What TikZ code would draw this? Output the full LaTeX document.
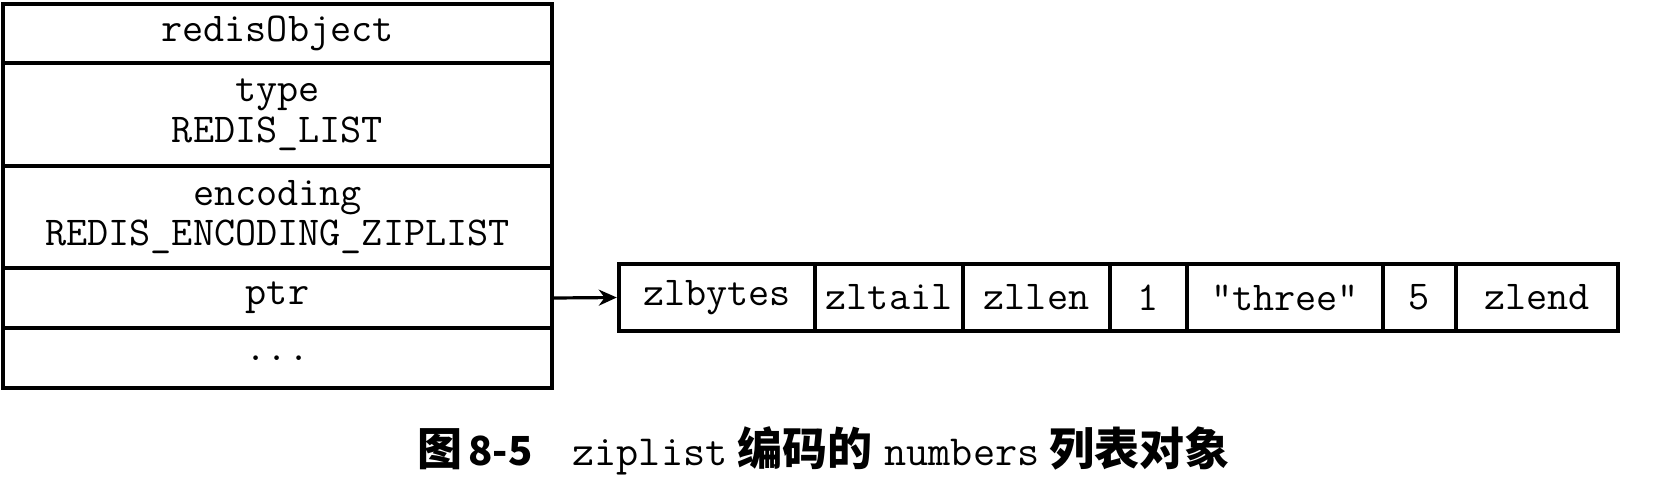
\documentclass[tikz,border=0pt]{standalone}
\usepackage{fontspec}
\usetikzlibrary{arrows.meta}
\newfontfamily\cjk{Noto Sans CJK SC}
\newcommand{\boxfont}{\fontsize{20.5}{24}\ttfamily\addfontfeature{FakeBold=1}}
\newcommand{\capmono}{\fontsize{21.5}{24}\ttfamily\addfontfeature{FakeBold=0.5}}
\newcommand{\capcjk}{\fontsize{22.5}{26}\cjk\bfseries}
\tikzset{
  objrow/.style={draw, line width=2.2pt, minimum width=274.5pt, inner sep=0pt, align=center,
    font=\boxfont},
  zipcell/.style={draw, line width=2.2pt, minimum height=33.5pt, inner sep=0pt,
    font=\boxfont},
  ptrarrow/.style={line width=1.6pt, -{Stealth[length=9pt,width=8pt]}},
}
\begin{document}
\begin{tikzpicture}[x=0.5pt,y=-0.5pt]
\fill[white] (0,0) rectangle (1666,486);
\useasboundingbox (0,0) rectangle (1666,486);
% redisObject
\node[objrow, minimum height=29.5pt] (r1) at (277.5,33.5) {redisObject};
\node[objrow, minimum height=51.5pt] (r2) at (277.5,114.5) {type\\[-3.6pt]REDIS\_LIST};
\node[objrow, minimum height=51pt] (r3) at (277.5,217) {encoding\\[-3.6pt]REDIS\_ENCODING\_ZIPLIST};
\node[objrow, minimum height=30pt] (r4) at (277.5,298) {ptr};
\node[objrow, minimum height=30pt] (r5) at (277.5,358) {...};
% ziplist
\node[zipcell, minimum width=98pt] (z1) at (717,297.5) {zlbytes};
\node[zipcell, minimum width=74pt] (z2) at (889,297.5) {zltail};
\node[zipcell, minimum width=73.5pt] (z3) at (1036.5,297.5) {zllen};
\node[zipcell, minimum width=38.5pt] (z4) at (1148.5,297.5) {1};
\node[zipcell, minimum width=98pt] (z5) at (1285,297.5) {"three"};
\node[zipcell, minimum width=36.5pt] (z6) at (1419.5,297.5) {5};
\node[zipcell, minimum width=81pt] (z7) at (1537,297.5) {zlend};
% arrow
\draw[ptrarrow] (r4.east) -- (z1.west);
% caption
\node[anchor=west, inner sep=0pt] (cap) at (417,451) {%
  {\capcjk 图\hspace{3pt}{\fontsize{20}{24}\selectfont 8-5}}\hspace{20pt}%
  {\capmono ziplist}\hspace{5pt}%
  {\capcjk 编码的}\hspace{6pt}%
  {\capmono numbers}\hspace{5pt}%
  {\capcjk 列表对象}};
\end{tikzpicture}
\end{document}
